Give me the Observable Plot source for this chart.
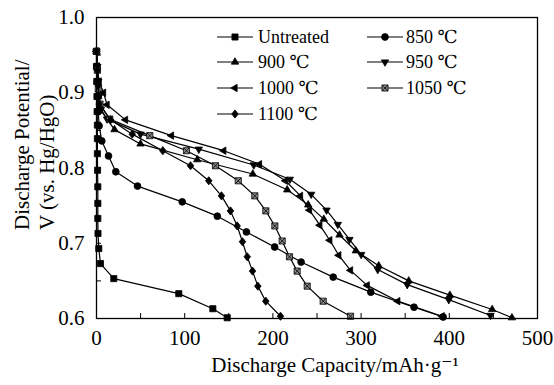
<!DOCTYPE html>
<html><head><meta charset="utf-8">
<script src="https://cdn.jsdelivr.net/npm/d3@7"></script>
<script src="https://cdn.jsdelivr.net/npm/@observablehq/plot@0.6"></script>
<style>body{margin:0;background:#fff}#chart{width:554px;height:385px}#chart svg, #chart svg text{font-family:"Liberation Serif","DejaVu Serif",serif !important}</style>
</head><body><div id="chart"></div>
<script>
// ---- data ----
const seriesNames = ["Untreated", "850 ℃", "900 ℃", "950 ℃", "1000 ℃", "1050 ℃", "1100 ℃"];

const untreatedCap = [0, 0, 0.3, 0.5, 0.7, 1, 1, 1, 1.2, 1.5, 1.5, 1.5, 1.7, 2.6, 4.5, 19.6, 93.3, 131.9, 148.2];
const untreatedV   = [0.955, 0.935, 0.915, 0.895, 0.875, 0.857, 0.839, 0.819, 0.797, 0.775, 0.753, 0.733, 0.713, 0.693, 0.673, 0.653, 0.633, 0.613, 0.601];

const c850Cap = [0, 0.5, 1, 1.5, 2, 3, 6, 13.6, 21.9, 46.5, 97.2, 137, 170, 202, 232, 268.4, 311, 360, 393];
const c850V   = [0.955, 0.935, 0.915, 0.895, 0.875, 0.856, 0.836, 0.816, 0.795, 0.776, 0.755, 0.736, 0.715, 0.695, 0.675, 0.655, 0.635, 0.615, 0.602];

const c900Cap = [0, 0.5, 1, 2, 3, 20.4, 49.9, 114.2, 177.2, 216.2, 240, 257.7, 275.5, 294, 320, 354, 400.6, 448.6, 471];
const c900V   = [0.955, 0.935, 0.915, 0.895, 0.88, 0.851, 0.832, 0.811, 0.792, 0.771, 0.751, 0.732, 0.711, 0.69, 0.67, 0.65, 0.631, 0.612, 0.601];

const c950Cap = [0, 1, 2, 3, 5, 12, 49.9, 116, 178.3, 219.2, 243.4, 260.8, 273.6, 286.8, 300.1, 318.9, 352.3, 399.4, 446.7];
const c950V   = [0.955, 0.935, 0.915, 0.895, 0.878, 0.865, 0.845, 0.825, 0.804, 0.785, 0.765, 0.744, 0.725, 0.705, 0.685, 0.665, 0.645, 0.625, 0.604];

const c1000Cap = [0, 1, 3, 8, 12, 32.9, 85, 144.3, 184.8, 214.3, 231.3, 241.5, 253.2, 264.5, 274.7, 288, 306.9, 341.6, 391.9];
const c1000V   = [0.955, 0.935, 0.915, 0.9, 0.884, 0.864, 0.843, 0.823, 0.805, 0.783, 0.763, 0.744, 0.724, 0.704, 0.684, 0.664, 0.644, 0.623, 0.603];

const c1050Cap = [0, 1, 2, 4, 15, 60.4, 102, 134.9, 160.7, 179.5, 192, 202.2, 210.5, 218.8, 227.5, 238.9, 257, 288];
const c1050V   = [0.955, 0.93, 0.905, 0.885, 0.865, 0.843, 0.823, 0.803, 0.783, 0.763, 0.743, 0.723, 0.703, 0.682, 0.663, 0.643, 0.623, 0.603];

const c1100Cap = [0, 1, 2, 3, 15.9, 40.5, 75.2, 106.6, 127.3, 141.7, 151.9, 159.5, 165.5, 170.9, 176.9, 182.9, 191.9, 208.6];
const c1100V   = [0.955, 0.93, 0.91, 0.885, 0.864, 0.845, 0.823, 0.803, 0.783, 0.763, 0.743, 0.723, 0.702, 0.682, 0.663, 0.643, 0.623, 0.603];

const xTicks = [0, 100, 200, 300, 400, 500];
const xMinorTicks = [50, 100, 150, 200, 250, 300, 350, 400, 450];
const yTicks = [0.6, 0.7, 0.8, 0.9, 1.0];
const yMinorTicks = [0.65, 0.7, 0.75, 0.8, 0.85, 0.9, 0.95];

const xLabel = "Discharge Capacity/mAh·g⁻¹";
const yLabel = "Discharge Potential/\nV (vs. Hg/HgO)";

// ---- custom marker shapes ----
const R = s => Math.sqrt(s / Math.PI);
const symSquare = {draw(c, s){ const r = R(s) * 0.9; c.rect(-r, -r, 2*r, 2*r); }};
const symCircle = {draw(c, s){ const r = R(s); c.moveTo(r, 0); c.arc(0, 0, r, 0, 2*Math.PI); }};
const symTriUp = {draw(c, s){ const r = R(s) * 1.25; c.moveTo(0, -r); c.lineTo(r*0.87, r*0.5); c.lineTo(-r*0.87, r*0.5); c.closePath(); }};
const symTriDown = {draw(c, s){ const r = R(s) * 1.25; c.moveTo(0, r); c.lineTo(r*0.87, -r*0.5); c.lineTo(-r*0.87, -r*0.5); c.closePath(); }};
const symTriLeft = {draw(c, s){ const r = R(s) * 1.25; c.moveTo(-r, 0); c.lineTo(r*0.5, -r*0.87); c.lineTo(r*0.5, r*0.87); c.closePath(); }};
const symBoxX = {draw(c, s){ const r = R(s) * 0.9; c.rect(-r, -r, 2*r, 2*r); c.moveTo(-r, -r); c.lineTo(r, r); c.moveTo(r, -r); c.lineTo(-r, r); }};
const symDiamond = {draw(c, s){ const r = R(s) * 1.2; c.moveTo(0, -r); c.lineTo(r*0.8, 0); c.lineTo(0, r); c.lineTo(-r*0.8, 0); c.closePath(); }};

const caps = [untreatedCap, c850Cap, c900Cap, c950Cap, c1000Cap, c1050Cap, c1100Cap];
const volts = [untreatedV, c850V, c900V, c950V, c1000V, c1050V, c1100V];
const symbols = [symSquare, symCircle, symTriUp, symTriDown, symTriLeft, symBoxX, symDiamond];
const fills = ["black", "black", "black", "black", "black", "#888", "black"];

const series = seriesNames.map((name, i) => ({
  name, symbol: symbols[i], fill: fills[i],
  data: caps[i].map((c, j) => ({cap: c, v: volts[i][j]}))
}));

const W = 554, H = 385, mL = 96, mR = 17, mT = 17, mB = 67;
const plotW = W - mL - mR, plotH = H - mT - mB;
const tickLen = 5;
const font = "Liberation Serif";

const marks = [];
for (const s of series) {
  marks.push(Plot.line(s.data, {x: "cap", y: "v", stroke: "black", strokeWidth: 1.2}));
  marks.push(Plot.dot(s.data, {x: "cap", y: "v", symbol: s.symbol, r: 3.4, fill: s.fill, stroke: "black", strokeWidth: 0.8}));
}

const chart = Plot.plot({
  width: W, height: H,
  marginLeft: mL, marginRight: mR, marginTop: mT, marginBottom: mB,
  style: {fontFamily: font, background: "white", color: "black", overflow: "visible"},
  x: {domain: [0, 500], label: null},
  y: {domain: [0.6, 1.0], label: null},
  marks: [
    ...marks,
    Plot.ruleX(xMinorTicks, {x: d => d, insetTop: plotH - tickLen, stroke: "black", strokeWidth: 1}),
    Plot.ruleY(yMinorTicks, {y: d => d, insetRight: plotW - tickLen, stroke: "black", strokeWidth: 1}),
    Plot.frame({stroke: "black", strokeWidth: 1.3}),
    Plot.axisX(xTicks, {tickSize: 0, tickPadding: 12, fontSize: 21, label: null}),
    Plot.axisY(yTicks, {tickSize: 0, tickPadding: 12, fontSize: 21, tickFormat: d3.format(".1f"), label: null}),
    Plot.text([xLabel], {text: d => d, frameAnchor: "bottom", dy: 53, dx: 18, fontSize: 21}),
    Plot.text([yLabel], {text: d => d, frameAnchor: "left", rotate: -90, textAnchor: "start", lineHeight: 1.2, dx: -63, dy: 62, fontSize: 21})
  ]
});

document.getElementById("chart").appendChild(chart);

// ---- legend (inside the plot area) ----
const svg = d3.select(chart);
const lg = svg.append("g").attr("font-size", 18).attr("text-anchor", "start");
const cols = [{x0: 217, x1: 253, tx: 258}, {x0: 367, x1: 403, tx: 406}];
const order = [[0, 0, 37], [1, 1, 37], [2, 0, 62], [3, 1, 62], [4, 0, 88], [5, 1, 88], [6, 0, 114]];
for (const [i, col, y] of order) {
  const c = cols[col];
  lg.append("line").attr("x1", c.x0).attr("x2", c.x1).attr("y1", y).attr("y2", y)
    .attr("stroke", "black").attr("stroke-width", 1.2);
  lg.append("path").attr("transform", `translate(${(c.x0 + c.x1) / 2},${y})`)
    .attr("d", d3.symbol(series[i].symbol, 3.4 * 3.4 * Math.PI)())
    .attr("fill", series[i].fill).attr("stroke", "black").attr("stroke-width", 0.8);
  lg.append("text").attr("x", c.tx).attr("y", y).attr("dy", "0.35em").attr("fill", "black")
    .attr("text-anchor", "start").text(series[i].name);
}
</script>
</body></html>
